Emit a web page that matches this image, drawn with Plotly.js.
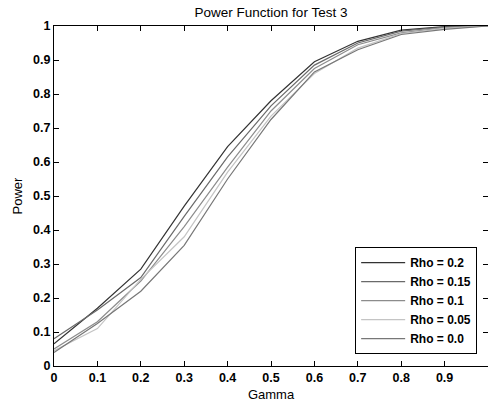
<!DOCTYPE html>
<html>
<head>
<meta charset="utf-8">
<script src="https://cdn.plot.ly/plotly-3.0.1.min.js"></script>
<style>html,body{margin:0;padding:0;background:#fff;}#chart{width:488px;height:403px;}</style>
</head>
<body>
<div id="chart"></div>
<script>
const gamma = [0, 0.1, 0.2, 0.3, 0.4, 0.5, 0.6, 0.7, 0.8, 0.9, 1.0];
const rho020 = [0.065, 0.17, 0.285, 0.47, 0.645, 0.78, 0.895, 0.955, 0.988, 0.998, 1.0];
const rho015 = [0.08, 0.165, 0.26, 0.44, 0.615, 0.765, 0.885, 0.95, 0.985, 0.997, 1.0];
const rho010 = [0.05, 0.13, 0.25, 0.41, 0.585, 0.75, 0.875, 0.945, 0.98, 0.995, 1.0];
const rho005 = [0.045, 0.11, 0.255, 0.38, 0.57, 0.735, 0.86, 0.935, 0.978, 0.993, 1.0];
const rho000 = [0.04, 0.125, 0.22, 0.355, 0.55, 0.725, 0.865, 0.93, 0.975, 0.99, 1.0];
const seriesNames = ["Rho = 0.2", "Rho = 0.15", "Rho = 0.1", "Rho = 0.05", "Rho = 0.0"];
const seriesData = [rho020, rho015, rho010, rho005, rho000];
const seriesColors = ["#333333", "#6a6a6a", "#8c8c8c", "#c4c4c4", "#777777"];
const xTicks = [0, 0.1, 0.2, 0.3, 0.4, 0.5, 0.6, 0.7, 0.8, 0.9];
const yTicks = [0, 0.1, 0.2, 0.3, 0.4, 0.5, 0.6, 0.7, 0.8, 0.9, 1];

const traces = seriesData.map((d, i) => ({
  x: gamma, y: d, type: 'scatter', mode: 'lines', name: seriesNames[i],
  line: {color: seriesColors[i], width: 1.2}
}));

const font = {family: 'Liberation Sans, Arial, sans-serif', color: '#000'};
const layout = {
  width: 488, height: 403,
  margin: {l: 54, r: 0, t: 26, b: 37},
  paper_bgcolor: '#fff', plot_bgcolor: '#fff',
  font: Object.assign({size: 12}, font),
  title: {text: 'Power Function for Test 3', x: 0.5, xref: 'paper', y: 0.97, yref: 'container', yanchor: 'middle',
          font: Object.assign({size: 13.5}, font)},
  xaxis: {range: [0, 1], tickvals: xTicks, ticktext: xTicks.map(String), ticks: 'inside', ticklen: 5,
          tickcolor: '#000', showline: true, linecolor: '#000', linewidth: 1, mirror: 'allticks',
          showgrid: false, zeroline: false, tickfont: Object.assign({size: 12.5, weight: 'bold'}, font),
          title: {text: 'Gamma', standoff: 5, font: Object.assign({size: 13}, font)}},
  yaxis: {range: [0, 1], tickvals: yTicks, ticktext: yTicks.map(String), ticks: 'inside', ticklen: 5,
          tickcolor: '#000', showline: true, linecolor: '#000', linewidth: 1, mirror: 'allticks',
          showgrid: false, zeroline: false, tickfont: Object.assign({size: 12.5, weight: 'bold'}, font),
          title: {text: 'Power', standoff: 7, font: Object.assign({size: 13}, font)}},
  showlegend: true,
  legend: {x: 0.975, xanchor: 'right', y: 0.035, yanchor: 'bottom', bgcolor: '#fff',
           bordercolor: '#000', borderwidth: 1, itemwidth: 44,
           font: Object.assign({size: 12, weight: 'bold'}, font)}
};
Plotly.newPlot('chart', traces, layout, {displayModeBar: false, staticPlot: true});
</script>
</body>
</html>
